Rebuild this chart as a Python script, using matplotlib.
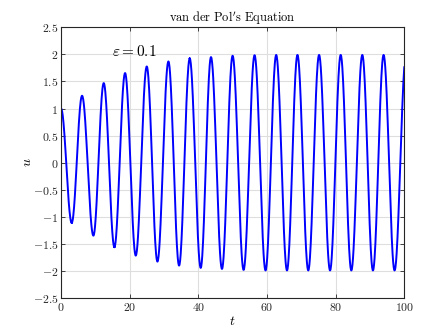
import matplotlib
matplotlib.use("Agg")
import matplotlib.pyplot as plt
import numpy as np

# extrema of u(t) (start point, alternating troughs/peaks)
t_ext = [0.0, 3.11, 6.12, 9.43, 12.44, 15.55, 18.66, 21.77, 24.98, 28.09,
         31.29, 34.4, 37.5, 40.7, 43.7, 46.9, 50.0, 53.2, 56.4, 59.6,
         62.7, 65.85, 68.9, 72.05, 75.2, 78.4, 81.5, 84.6, 87.8, 90.9,
         94.0, 97.2, 100.55]
u_ext = [1.0, -1.11, 1.236, -1.347, 1.47, -1.56, 1.655, -1.716, 1.777, -1.827,
         1.87, -1.9, 1.925, -1.943, 1.95, -1.962, 1.975, -1.98, 1.985, -1.99,
         1.99, -1.99, 1.99, -1.99, 1.99, -1.99, 1.99, -1.99, 1.99, -1.99,
         1.99, -1.99, 1.99]

yticks = [-2.5, -2, -1.5, -1, -0.5, 0, 0.5, 1, 1.5, 2, 2.5]
ytick_labels = ["-2.5", "-2", "-1.5", "-1", "-0.5", "0", "0.5", "1", "1.5", "2", "2.5"]
xticks = [0, 20, 40, 60, 80, 100]

plt.rcParams.update({
    "mathtext.fontset": "cm",
    "font.family": "serif",
    "font.serif": ["DejaVu Serif"],
})

# smooth half-wave between each pair of read extrema
tt, uu = [], []
for i in range(len(t_ext) - 1):
    s = np.linspace(0, 1, 40)
    tt.append(t_ext[i] + (t_ext[i + 1] - t_ext[i]) * s)
    uu.append(u_ext[i] + (u_ext[i + 1] - u_ext[i]) * (1 - np.cos(np.pi * s)) / 2)
tt = np.concatenate(tt)
uu = np.concatenate(uu)

fig = plt.figure(figsize=(4.21, 3.29), dpi=100)
ax = fig.add_axes([0.145, 0.094, 0.815, 0.823])
ax.plot(tt, uu, color=(0, 0, 1), lw=1.4)
ax.set_xlim(0, 100)
ax.set_ylim(-2.5, 2.5)

ax.set_xticks(xticks)
ax.set_xticklabels(["$\\mathrm{%d}$" % v for v in xticks], fontsize=8.5)
ax.set_yticks(yticks)
ax.set_yticklabels(["$\\mathrm{%s}$" % s for s in ytick_labels], fontsize=8.5)
ax.tick_params(direction="in", top=True, right=True, length=3, width=0.6,
               pad=2, colors="#262626")
ax.grid(True, color="#dedede", lw=0.8)
ax.set_axisbelow(True)
for sp in ax.spines.values():
    sp.set_linewidth(0.8)
    sp.set_color("#262626")

ax.set_title(r"$\mathrm{van\ der\ Pol's\ Equation}$", fontsize=9, pad=4)
ax.set_xlabel(r"$t$", fontsize=10, labelpad=0)
ax.set_ylabel(r"$u$", fontsize=10, labelpad=-1)
ax.text(14.8, 2.05, r"$\varepsilon = 0.1$", fontsize=11, va="center", ha="left")

fig.savefig("out.png", dpi=100)
